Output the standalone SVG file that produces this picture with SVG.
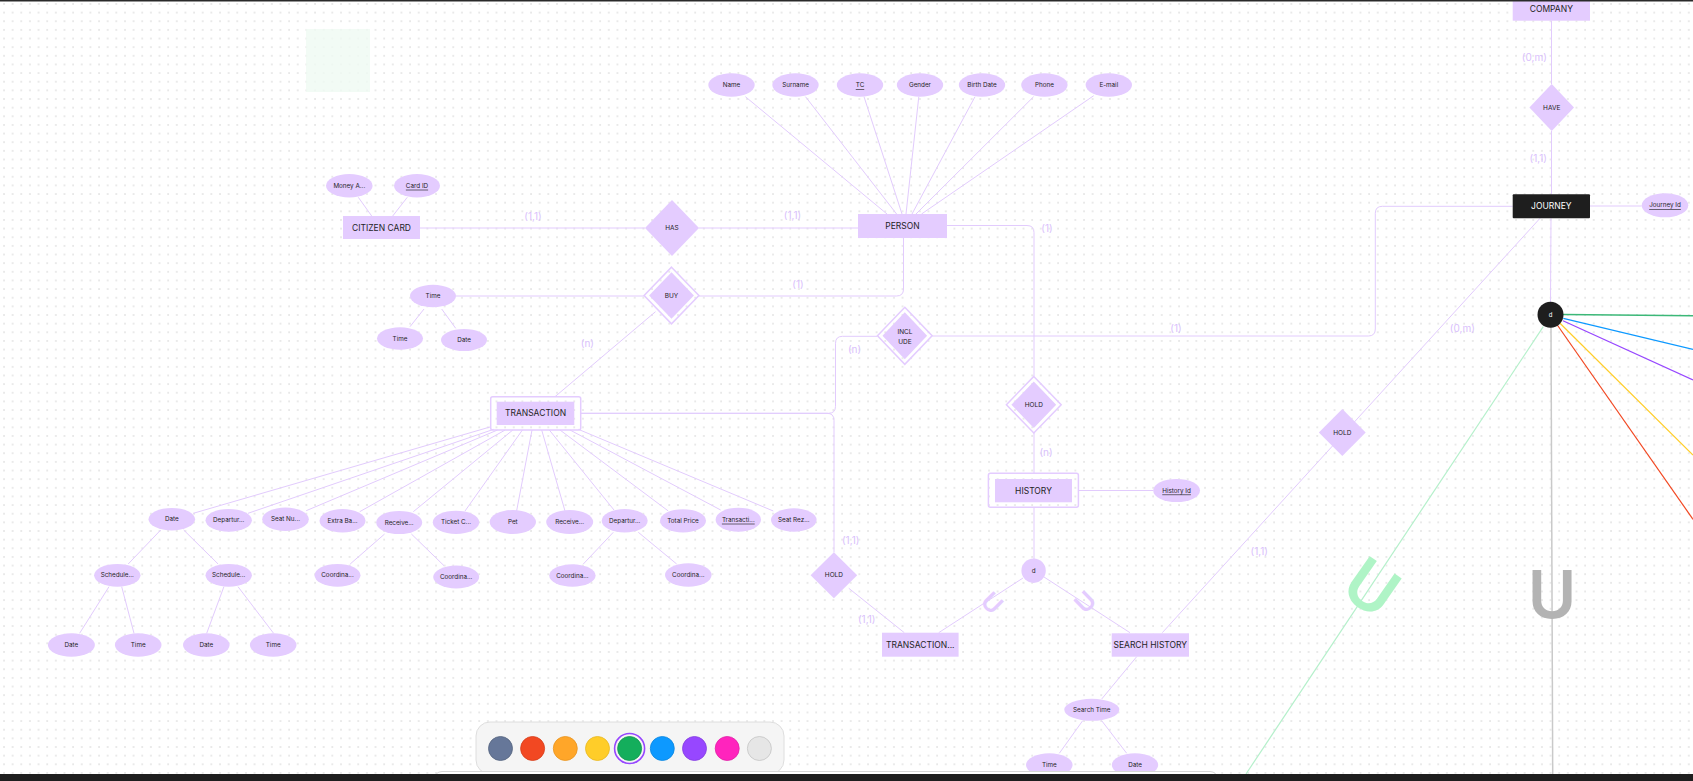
<svg xmlns="http://www.w3.org/2000/svg" width="1693" height="781" viewBox="0 0 1693 781">
<defs>
<pattern id="dots" x="3" y="3" width="8.64" height="8.64" patternUnits="userSpaceOnUse">
<circle cx="1" cy="1" r="0.7" fill="#c6c6c6"/>
</pattern>
<style>
.e{fill:#e4ccff}
.t{font-family:Inter,"Noto Sans",sans-serif;fill:#1e1e1e;text-anchor:middle;dominant-baseline:central}
.te{font-size:6.3px}
.tr{font-size:8.5px}
.td{font-size:6.5px}
.u{text-decoration:underline}
.c{stroke:#e2cbfd;stroke-width:1;fill:none}
.dbl{fill:none;stroke:#e4ccff;stroke-width:1.5}
.lbl{font-family:Inter,"Noto Sans",sans-serif;font-size:10px;fill:#d9c1fc;text-anchor:middle;dominant-baseline:central}
</style>
</defs>
<rect width="1693" height="781" fill="#ffffff"/>
<rect width="1693" height="781" fill="url(#dots)"/>
<rect x="306" y="29" width="64" height="63" fill="#effaf2" opacity="0.8"/>

<g id="connectors">
<g class="c">
<line x1="745.4" y1="96.7" x2="887" y2="214"/>
<line x1="805.5" y1="96.7" x2="896.6" y2="214"/>
<line x1="864" y1="96.7" x2="902" y2="214"/>
<line x1="918.8" y1="96.7" x2="906" y2="214"/>
<line x1="975" y1="96.7" x2="912" y2="214"/>
<line x1="1033.6" y1="96.7" x2="916" y2="214"/>
<line x1="1093.7" y1="95.7" x2="921.5" y2="214"/>
<line x1="358.3" y1="197.3" x2="371.7" y2="216"/>
<line x1="407.3" y1="197.3" x2="392.7" y2="216"/>
<line x1="420" y1="228" x2="645" y2="228"/>
<line x1="698.7" y1="228" x2="858" y2="228"/>
<line x1="456" y1="296" x2="644" y2="296"/>
<line x1="424" y1="309" x2="410" y2="326.7"/>
<line x1="441.7" y1="309" x2="455.7" y2="328.3"/>
<path d="M698.7,296 H896.5 Q903.5,296 903.5,289 V238"/>
<line x1="655.5" y1="311.7" x2="555" y2="396.7"/>
<path d="M947,225.5 H1027 Q1034,225.5 1034,232.5 V376.4"/>
<line x1="1034" y1="433" x2="1034" y2="473.3"/>
<line x1="1078.4" y1="490.5" x2="1153.3" y2="490.5"/>
<line x1="1034" y1="507.3" x2="1034" y2="559"/>
<line x1="1023" y1="578" x2="938.7" y2="632.7"/>
<line x1="1044" y1="577" x2="1130" y2="632.7"/>
<line x1="1136.7" y1="656.7" x2="1101.7" y2="699"/>
<line x1="1082.7" y1="720.7" x2="1059.3" y2="753.3"/>
<line x1="1101.7" y1="720.7" x2="1126.7" y2="753.3"/>
<path d="M580.7,413.3 H828.5 Q835.5,413.3 835.5,406.3 V343.3 Q835.5,336.3 842.5,336.3 H877.5"/>
<path d="M580.7,413.3 H827 Q834,413.3 834,420.3 V552.3"/>
<line x1="848.8" y1="588.3" x2="904.3" y2="632.7"/>
<path d="M932.2,336 H1368.3 Q1375.3,336 1375.3,329 V213.3 Q1375.3,206.3 1382.3,206.3 H1512.7"/>
<line x1="1540" y1="218.3" x2="1162.3" y2="632.7"/>
<line x1="1551.5" y1="20.7" x2="1551.5" y2="84"/>
<line x1="1551.5" y1="131" x2="1551.5" y2="194.3"/>
<line x1="1590" y1="206" x2="1641.7" y2="206"/>
<line x1="1551" y1="218.3" x2="1550.5" y2="302"/>
<line x1="491" y1="426.7" x2="193.3" y2="513.3"/>
<line x1="493.7" y1="429.3" x2="248" y2="513.3"/>
<line x1="497.5" y1="430" x2="306.2" y2="510.7"/>
<line x1="505.2" y1="430" x2="359.7" y2="511.7"/>
<line x1="512.8" y1="430" x2="413.3" y2="511.7"/>
<line x1="522.4" y1="430" x2="465" y2="511"/>
<line x1="532" y1="430" x2="516.6" y2="511"/>
<line x1="541.7" y1="430" x2="565" y2="511"/>
<line x1="549.3" y1="430" x2="614" y2="510"/>
<line x1="560" y1="430" x2="668.3" y2="511"/>
<line x1="570" y1="430" x2="720.7" y2="510"/>
<line x1="578.3" y1="429.3" x2="773.3" y2="511"/>
<line x1="160.7" y1="530" x2="128.2" y2="564"/>
<line x1="183.7" y1="530" x2="218.1" y2="564"/>
<line x1="109" y1="586.7" x2="79.6" y2="633.3"/>
<line x1="121.7" y1="586.7" x2="134" y2="633.3"/>
<line x1="223.9" y1="586.7" x2="206.7" y2="633.3"/>
<line x1="238" y1="586.7" x2="273.6" y2="633.3"/>
<line x1="384.6" y1="534" x2="350.2" y2="564"/>
<line x1="411.4" y1="534" x2="444" y2="565.7"/>
<line x1="613.3" y1="532.3" x2="583.3" y2="564"/>
<line x1="638.3" y1="532.3" x2="676.7" y2="564"/>
</g>
<line x1="1551" y1="327" x2="1552.7" y2="774" stroke="#c9c9c9" stroke-width="1.5"/>
<line x1="1543.3" y1="326.7" x2="1246" y2="774" stroke="#b5f0cb" stroke-width="1.2"/>
<line x1="1563" y1="314.5" x2="1693" y2="315.7" stroke="#3cb878" stroke-width="1.6"/>
<line x1="1563.3" y1="318.3" x2="1693" y2="349.3" stroke="#0d99ff" stroke-width="1.2"/>
<line x1="1563" y1="320.7" x2="1693" y2="380" stroke="#9747ff" stroke-width="1.2"/>
<line x1="1560" y1="323.3" x2="1693" y2="455" stroke="#ffcd29" stroke-width="1.2"/>
<line x1="1557.3" y1="325" x2="1693" y2="519.3" stroke="#f24822" stroke-width="1.2"/>
</g>

<g id="labels">
<text class="lbl" x="533" y="215.5">(1,1)</text>
<text class="lbl" x="792.5" y="215">(1,1)</text>
<text class="lbl" x="798" y="284.3">(1)</text>
<text class="lbl" x="587.4" y="343">(n)</text>
<text class="lbl" x="1047" y="228">(1)</text>
<text class="lbl" x="854.5" y="349.3">(n)</text>
<text class="lbl" x="1046" y="452">(n)</text>
<text class="lbl" x="850.7" y="540">(1,1)</text>
<text class="lbl" x="866.7" y="619.3">(1,1)</text>
<text class="lbl" x="1176" y="327.7">(1)</text>
<text class="lbl" x="1462.3" y="328.3">(0,m)</text>
<text class="lbl" x="1259.3" y="550.7">(1,1)</text>
<text class="lbl" x="1534.3" y="57.3">(0,m)</text>
<text class="lbl" x="1538.3" y="157.7">(1,1)</text>
</g>

<g id="subset-symbols" font-family="Inter,'Noto Sans',sans-serif" text-anchor="middle">
<text transform="translate(992,603) rotate(45)" y="9" font-size="25" font-weight="600" fill="#e4ccff">U</text>
<text transform="translate(1085,602) rotate(-44)" y="9" font-size="25" font-weight="600" fill="#e4ccff">U</text>
<text transform="translate(1372,587) rotate(35)" y="24" font-size="66" font-weight="600" fill="#aff4c6">U</text>
<text transform="translate(1552,594) rotate(0)" y="24" font-size="66" font-weight="600" fill="#b3b3b3">U</text>
</g>

<g id="citizen-card"><rect class="e" x="343" y="216" width="77" height="23"/><text class="t tr" x="381.5" y="227.5">CITIZEN CARD</text></g>
<g id="attr-money"><ellipse class="e" cx="349.3" cy="185.7" rx="23.3" ry="11.7"/><text class="t te" x="349.3" y="185.7">Money A...</text></g>
<g id="attr-cardid"><ellipse class="e" cx="417" cy="185.7" rx="23" ry="11.7"/><text class="t te u" x="417" y="185.7">Card ID</text></g>

<g id="has"><polygon class="e" points="672,200 699,228 672,256 645,228"/><text class="t td" x="672" y="228">HAS</text></g>
<g id="buy"><polygon class="dbl" points="671.5,267.2 698.9,295.5 671.5,323.8 644.1,295.5"/><polygon class="e" points="671.5,272.2 693.9,295.5 671.5,318.8 649.1,295.5"/><text class="t td" x="671.5" y="295.5">BUY</text></g>

<g id="person"><rect class="e" x="858" y="214" width="89" height="24"/><text class="t tr" x="902.5" y="226">PERSON</text></g>
<g id="attr-name"><ellipse class="e" cx="731.5" cy="85" rx="23.2" ry="11.7"/><text class="t te" x="731.5" y="85">Name</text></g>
<g id="attr-surname"><ellipse class="e" cx="795.5" cy="85" rx="23.2" ry="11.7"/><text class="t te" x="795.5" y="85">Surname</text></g>
<g id="attr-tc"><ellipse class="e" cx="860" cy="85" rx="23.2" ry="11.7"/><text class="t te u" x="860" y="85">TC</text></g>
<g id="attr-gender"><ellipse class="e" cx="920" cy="85" rx="23.2" ry="11.7"/><text class="t te" x="920" y="85">Gender</text></g>
<g id="attr-birth"><ellipse class="e" cx="982" cy="85" rx="23.2" ry="11.7"/><text class="t te" x="982" y="85">Birth Date</text></g>
<g id="attr-phone"><ellipse class="e" cx="1044.4" cy="85" rx="23.2" ry="11.7"/><text class="t te" x="1044.4" y="85">Phone</text></g>
<g id="attr-email"><ellipse class="e" cx="1108.8" cy="85" rx="23.2" ry="11.7"/><text class="t te" x="1108.8" y="85">E-mail</text></g>

<g id="buy-time"><ellipse class="e" cx="433" cy="296" rx="23" ry="11.2"/><text class="t te" x="433" y="296">Time</text></g>
<g id="buy-time-time"><ellipse class="e" cx="400" cy="338.5" rx="23" ry="11.2"/><text class="t te" x="400" y="338.5">Time</text></g>
<g id="buy-time-date"><ellipse class="e" cx="464" cy="340" rx="23" ry="11"/><text class="t te" x="464" y="340">Date</text></g>

<g id="include"><polygon class="dbl" points="904.8,307.3 932.1,335.8 904.8,364.3 877.5,335.8"/><polygon class="e" points="904.8,312.3 927.1,335.8 904.8,359.3 882.5,335.8"/><text class="t td" x="905" y="331.7">INCL</text><text class="t td" x="905" y="341.5">UDE</text></g>

<g id="transaction"><rect class="dbl" x="490.7" y="396.7" width="90" height="33.3" rx="2"/><rect class="e" x="496.7" y="401.7" width="77.6" height="23.3"/><text class="t tr" x="535.5" y="413.3">TRANSACTION</text></g>

<g id="t-date"><ellipse class="e" cx="171.8" cy="519.2" rx="23.3" ry="11.2"/><text class="t te" x="171.8" y="519.2">Date</text></g>
<g id="t-departure1"><ellipse class="e" cx="228.7" cy="520.3" rx="23.2" ry="11.4"/><text class="t te" x="228.7" y="520.3">Departur...</text></g>
<g id="t-seatno"><ellipse class="e" cx="285.5" cy="519.3" rx="23.3" ry="11.7"/><text class="t te" x="285.5" y="519.3">Seat Nu...</text></g>
<g id="t-extra"><ellipse class="e" cx="342.5" cy="520.7" rx="23" ry="11.7"/><text class="t te" x="342.5" y="520.7">Extra Ba...</text></g>
<g id="t-receive1"><ellipse class="e" cx="399.2" cy="522.5" rx="23" ry="11.6"/><text class="t te" x="399.2" y="522.5">Receive...</text></g>
<g id="t-ticket"><ellipse class="e" cx="456" cy="522.3" rx="23.2" ry="11.6"/><text class="t te" x="456" y="522.3">Ticket C...</text></g>
<g id="t-pet"><ellipse class="e" cx="512.8" cy="522" rx="23.2" ry="12"/><text class="t te" x="512.8" y="522">Pet</text></g>
<g id="t-receive2"><ellipse class="e" cx="569.7" cy="522" rx="23.5" ry="12"/><text class="t te" x="569.7" y="522">Receive...</text></g>
<g id="t-departure2"><ellipse class="e" cx="624.7" cy="520.7" rx="23" ry="11.7"/><text class="t te" x="624.7" y="520.7">Departur...</text></g>
<g id="t-total"><ellipse class="e" cx="683" cy="520.8" rx="23" ry="11.6"/><text class="t te" x="683" y="520.8">Total Price</text></g>
<g id="t-transid"><ellipse class="e" cx="738.3" cy="519.7" rx="22.7" ry="12"/><text class="t te u" x="738.3" y="519.7">Transacti...</text></g>
<g id="t-seatrez"><ellipse class="e" cx="793.8" cy="520" rx="22.8" ry="11.7"/><text class="t te" x="793.8" y="520">Seat Rez...</text></g>

<g id="t-sched1"><ellipse class="e" cx="117.3" cy="575.3" rx="23.2" ry="11.4"/><text class="t te" x="117.3" y="575.3">Schedule...</text></g>
<g id="t-sched2"><ellipse class="e" cx="228.7" cy="575.3" rx="23.2" ry="11.4"/><text class="t te" x="228.7" y="575.3">Schedule...</text></g>
<g id="t-coord1"><ellipse class="e" cx="337.5" cy="575.3" rx="23" ry="11.4"/><text class="t te" x="337.5" y="575.3">Coordina...</text></g>
<g id="t-coord2"><ellipse class="e" cx="456.2" cy="577" rx="23" ry="11.4"/><text class="t te" x="456.2" y="577">Coordina...</text></g>
<g id="t-coord3"><ellipse class="e" cx="572.4" cy="575.5" rx="23.2" ry="11.2"/><text class="t te" x="572.4" y="575.5">Coordina...</text></g>
<g id="t-coord4"><ellipse class="e" cx="688.3" cy="575" rx="23.3" ry="11.7"/><text class="t te" x="688.3" y="575">Coordina...</text></g>

<g id="t-s1-date"><ellipse class="e" cx="71.4" cy="645" rx="23.5" ry="11.7"/><text class="t te" x="71.4" y="645">Date</text></g>
<g id="t-s1-time"><ellipse class="e" cx="138.2" cy="645" rx="23.3" ry="11.7"/><text class="t te" x="138.2" y="645">Time</text></g>
<g id="t-s2-date"><ellipse class="e" cx="206.3" cy="645" rx="23.3" ry="11.7"/><text class="t te" x="206.3" y="645">Date</text></g>
<g id="t-s2-time"><ellipse class="e" cx="273.2" cy="645" rx="23.3" ry="11.7"/><text class="t te" x="273.2" y="645">Time</text></g>

<g id="hold-left"><polygon class="e" points="833.9,552.3 857.2,575.3 833.9,598.3 810.6,575.3"/><text class="t td" x="833.9" y="575.3">HOLD</text></g>
<g id="transaction-history"><rect class="e" x="882" y="632.7" width="76.6" height="24"/><text class="t tr" x="920.3" y="644.7">TRANSACTION...</text></g>

<g id="hold-history"><polygon class="dbl" points="1033.8,376.4 1061.2,404.7 1033.8,433 1006.4,404.7"/><polygon class="e" points="1033.8,381.4 1056.2,404.7 1033.8,428 1011.4,404.7"/><text class="t td" x="1033.8" y="404.7">HOLD</text></g>
<g id="history"><rect class="dbl" x="988.4" y="473.3" width="90" height="34" rx="2"/><rect class="e" x="995" y="479" width="77" height="23.3"/><text class="t tr" x="1033.5" y="490.7">HISTORY</text></g>
<g id="history-id"><ellipse class="e" cx="1176.6" cy="490.5" rx="23.4" ry="11.6"/><text class="t te u" x="1176.6" y="490.5">History Id</text></g>
<g id="history-d"><circle class="e" cx="1033.6" cy="570.7" r="12.2"/><text class="t te" x="1033.6" y="570.7">d</text></g>

<g id="search-history"><rect class="e" x="1111.7" y="633.3" width="77.3" height="23.4"/><text class="t tr" x="1150.3" y="645">SEARCH HISTORY</text></g>
<g id="search-time"><ellipse class="e" cx="1091.8" cy="709.8" rx="27.5" ry="11"/><text class="t te" x="1091.8" y="709.8">Search Time</text></g>
<g id="search-time-time"><ellipse class="e" cx="1049.3" cy="765" rx="23.3" ry="11.7"/><text class="t te" x="1049.3" y="765">Time</text></g>
<g id="search-time-date"><ellipse class="e" cx="1135" cy="765" rx="23.2" ry="11.7"/><text class="t te" x="1135" y="765">Date</text></g>

<g id="hold-right"><polygon class="e" points="1342.3,409 1365.7,432.5 1342.3,456 1318.9,432.5"/><text class="t td" x="1342.3" y="432.5">HOLD</text></g>

<g id="company"><rect class="e" x="1512.7" y="-3.3" width="77.3" height="24"/><text class="t tr" x="1551.3" y="9">COMPANY</text></g>
<g id="have"><polygon class="e" points="1551.7,84 1574,107.5 1551.7,131 1529.4,107.5"/><text class="t td" x="1551.7" y="107.5">HAVE</text></g>
<g id="journey"><rect x="1512.7" y="194.3" width="77.3" height="24" fill="#1e1e1e" rx="1"/><text class="t tr" x="1551.3" y="206.3" style="fill:#ffffff">JOURNEY</text></g>
<g id="journey-id"><ellipse class="e" cx="1665" cy="205.3" rx="23.3" ry="12"/><text class="t te u" x="1665" y="205.3">Journey Id</text></g>
<g id="journey-d"><circle cx="1550.5" cy="314.7" r="13" fill="#1e1e1e"/><text class="t" x="1550.5" y="314.7" style="fill:#ffffff;font-size:6px">d</text></g>

<g id="ui-overlay">
<rect x="476" y="722" width="308" height="52" rx="14" fill="#f5f5f5" stroke="#dedede" stroke-width="1"/>
<g stroke-width="0.8">
<circle cx="500.5" cy="748.5" r="12" fill="#667799" stroke="#55647f"/>
<circle cx="532.6" cy="748.5" r="12" fill="#f24822" stroke="#d63d1b"/>
<circle cx="565.3" cy="748.5" r="12" fill="#ffa629" stroke="#e89420"/>
<circle cx="597.5" cy="748.5" r="12" fill="#ffcd29" stroke="#e8b820"/>
<circle cx="629.6" cy="748.5" r="12" fill="#14ae5c" stroke="#10984f"/>
<circle cx="662.3" cy="748.5" r="12" fill="#0d99ff" stroke="#0b86e0"/>
<circle cx="694.5" cy="748.5" r="12" fill="#9747ff" stroke="#843de0"/>
<circle cx="727.2" cy="748.5" r="12" fill="#ff24bd" stroke="#e01fa6"/>
<circle cx="759.4" cy="748.5" r="12" fill="#e6e6e6" stroke="#c4c4c4"/>
</g>
<circle cx="629.6" cy="748.5" r="15" fill="none" stroke="#9747ff" stroke-width="1.6"/>
<rect x="434" y="771.5" width="784" height="20" rx="8" fill="#ffffff" stroke="#d6d6d6" stroke-width="1"/>
<rect x="0" y="774" width="1693" height="7" fill="#1e1e1e"/>
<rect x="0" y="0" width="1693" height="1.5" fill="#2a2a2a"/>
</g>
</svg>
